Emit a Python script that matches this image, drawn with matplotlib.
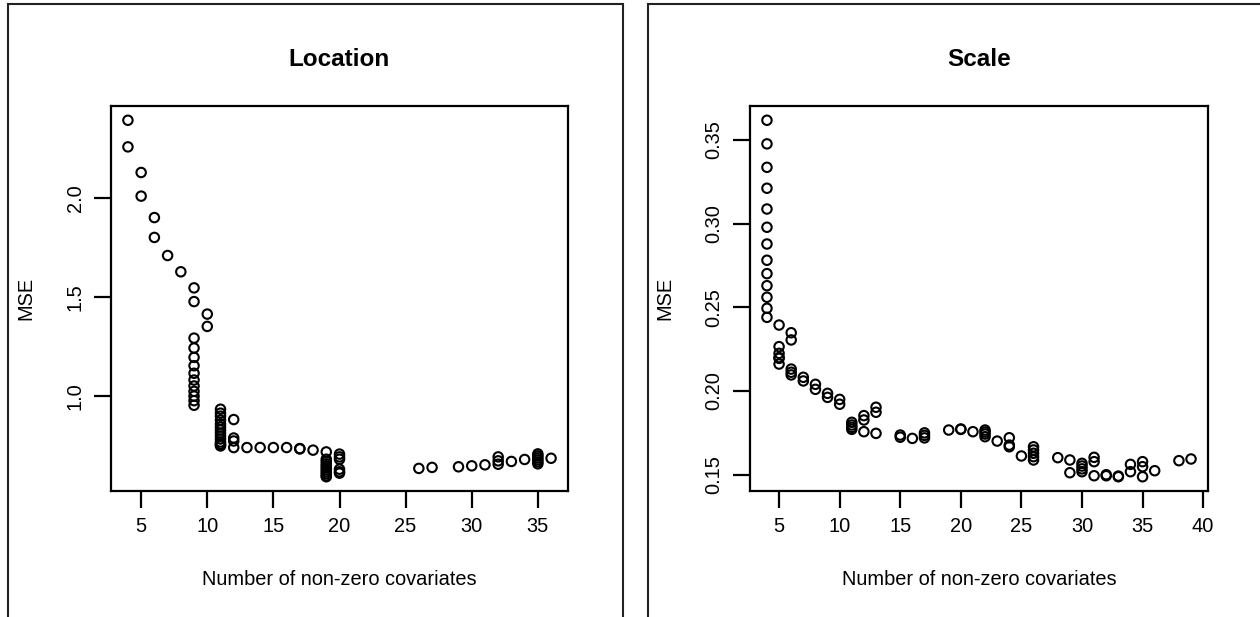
import matplotlib
matplotlib.use("Agg")
import matplotlib.pyplot as plt
from matplotlib.patches import Rectangle

plt.rcParams['font.family'] = ['Liberation Sans', 'DejaVu Sans']

# ---------------- Data ----------------
# Location panel: (number of non-zero covariates, MSE)
loc_x = ([4, 4, 5, 5, 6, 6, 7, 8]
         + [9] * 13 + [10, 10]
         + [11] * 14 + [12] * 4
         + [13, 14, 15, 16, 17, 17, 18]
         + [19] * 11 + [20] * 6
         + [26, 27, 29, 30, 31, 32, 32, 32, 33, 34]
         + [35] * 6 + [36])
loc_y = ([2.39, 2.256, 2.127, 2.008, 1.90, 1.80, 1.709, 1.627]
         + [1.546, 1.477, 1.293, 1.243, 1.196, 1.154, 1.116, 1.082, 1.052, 1.025, 1.001, 0.978, 0.955]
         + [1.414, 1.352]
         + [0.935, 0.915, 0.90, 0.88, 0.86, 0.845, 0.83, 0.815, 0.80, 0.785, 0.77, 0.76, 0.755, 0.75]
         + [0.883, 0.79, 0.775, 0.742]
         + [0.742, 0.742, 0.742, 0.742, 0.737, 0.735, 0.729]
         + [0.72, 0.683, 0.672, 0.66, 0.65, 0.64, 0.63, 0.62, 0.61, 0.60, 0.595]
         + [0.709, 0.695, 0.683, 0.633, 0.62, 0.613]
         + [0.637, 0.642, 0.645, 0.65, 0.655, 0.695, 0.675, 0.658, 0.672, 0.682]
         + [0.71, 0.70, 0.69, 0.68, 0.67, 0.66]
         + [0.688])

# Scale panel
sc_x = ([4] * 13
        + [5] * 6 + [6] * 5
        + [7, 7, 8, 8, 9, 9, 10, 10]
        + [11] * 4 + [12] * 3 + [13] * 3
        + [15, 15, 16, 17, 17, 17, 19, 20, 20, 21]
        + [22] * 4 + [23] + [24] * 3 + [25]
        + [26] * 5 + [28, 29, 29]
        + [30] * 4 + [31] * 3 + [32, 32, 33, 33, 34, 34, 35, 35, 35, 36, 38, 39])
sc_y = ([0.3617, 0.3476, 0.3336, 0.3211, 0.3087, 0.2978, 0.2878, 0.2781, 0.2701, 0.2629, 0.2560, 0.2494, 0.2440]
        + [0.2394, 0.2265, 0.2225, 0.2195, 0.2161, 0.2200]
        + [0.2348, 0.2305, 0.2131, 0.2112, 0.2096]
        + [0.2082, 0.2060, 0.2040, 0.2010, 0.1986, 0.1962, 0.1950, 0.1921]
        + [0.1813, 0.1797, 0.1783, 0.1771]
        + [0.1853, 0.1827, 0.1757]
        + [0.1903, 0.1873, 0.1747]
        + [0.1737, 0.1724, 0.1717, 0.1750, 0.1735, 0.1720, 0.1767, 0.1773, 0.1771, 0.1757]
        + [0.1767, 0.1755, 0.1743, 0.1727]
        + [0.1701]
        + [0.1721, 0.1677, 0.1667]
        + [0.1612]
        + [0.1667, 0.1648, 0.1628, 0.1608, 0.1588]
        + [0.1602, 0.1588, 0.1512]
        + [0.1568, 0.1552, 0.1535, 0.1518]
        + [0.1604, 0.1578, 0.1494]
        + [0.1500, 0.1494, 0.1492, 0.1488, 0.1562, 0.1518, 0.1578, 0.1548, 0.1488, 0.1524, 0.1584, 0.1594])

loc_xticks = [5, 10, 15, 20, 25, 30, 35]
loc_yticks = [1.0, 1.5, 2.0]
loc_yticklabels = ["1.0", "1.5", "2.0"]
sc_xticks = [5, 10, 15, 20, 25, 30, 35, 40]
sc_yticks = [0.15, 0.20, 0.25, 0.30, 0.35]
sc_yticklabels = ["0.15", "0.20", "0.25", "0.30", "0.35"]

xlabel = "Number of non-zero covariates"
ylabel = "MSE"

# ---------------- Figure ----------------
W, H = 1260, 617
fig = plt.figure(figsize=(W / 100, H / 100), dpi=100)
fig.patch.set_facecolor('white')


def px_axes(l, t, r, b):
    return fig.add_axes([l / W, 1 - b / H, (r - l) / W, (b - t) / H])


def r_limits(vals):
    lo, hi = min(vals), max(vals)
    d = (hi - lo) * 0.04
    return lo - d, hi + d


tick_fs = 14.4
label_fs = 14.4
title_fs = 17.5


def style(ax, x, y, xticks, yticks, yticklabels, title):
    ax.scatter(x, y, s=46, facecolors='none', edgecolors='black', linewidths=1.5, zorder=3)
    ax.set_xlim(*r_limits(x))
    ax.set_ylim(*r_limits(y))
    ax.set_xticks(xticks)
    ax.set_xticklabels([str(t) for t in xticks])
    ax.set_yticks(yticks)
    ax.set_yticklabels(yticklabels, rotation=90, va='center')
    for s in ax.spines.values():
        s.set_linewidth(1.6)
        s.set_color('black')
    ax.tick_params(axis='both', length=12.5, width=1.6, labelsize=tick_fs, color='black')
    ax.tick_params(axis='x', pad=6)
    ax.tick_params(axis='y', pad=6.5)
    ax.set_title(title, fontsize=title_fs, fontweight='bold', pad=29)
    ax.set_xlabel(xlabel, fontsize=label_fs, labelpad=24.5)
    ax.set_ylabel(ylabel, fontsize=label_fs, labelpad=22)


ax1 = px_axes(111, 106, 568, 491)
style(ax1, loc_x, loc_y, loc_xticks, loc_yticks, loc_yticklabels, "Location")
ax2 = px_axes(750, 106, 1208, 491)
style(ax2, sc_x, sc_y, sc_xticks, sc_yticks, sc_yticklabels, "Scale")

# panel frames
for (l, r) in [(8, 623), (648, 1275)]:
    rect = Rectangle((l / W, -0.1), (r - l) / W, 1.1 - 4 / H, transform=fig.transFigure,
                     fill=False, edgecolor='#222222', linewidth=1.5)
    fig.patches.append(rect)

fig.savefig("out.png", dpi=100, facecolor='white')
